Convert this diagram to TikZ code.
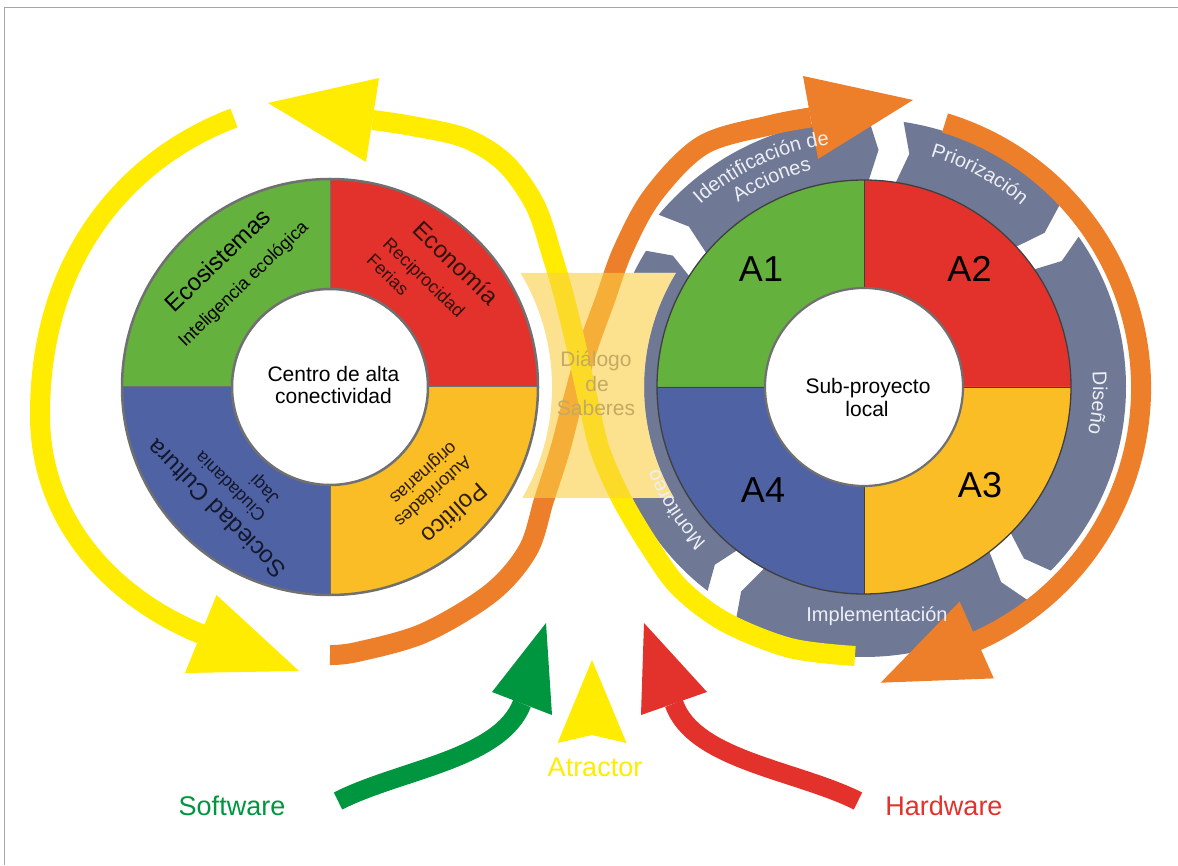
\documentclass[tikz,border=0pt]{standalone}
\usepackage{fontspec}
\setmainfont{Liberation Sans}
\usetikzlibrary{decorations.text}
\definecolor{qgreen}{RGB}{101,177,61}
\definecolor{qred}{RGB}{227,50,43}
\definecolor{qyellow}{RGB}{251,189,38}
\definecolor{qblue}{RGB}{79,98,164}
\definecolor{ringgray}{RGB}{111,120,148}
\definecolor{byellow}{RGB}{255,236,0}
\definecolor{borange}{RGB}{238,127,42}
\definecolor{swgreen}{RGB}{0,150,64}
\definecolor{hwred}{RGB}{227,49,43}
\definecolor{rectyel}{RGB}{251,208,68}
\definecolor{dialtxt}{RGB}{196,170,96}
\definecolor{ringtxt}{RGB}{236,239,246}
\definecolor{edgegray}{RGB}{112,112,112}
\definecolor{txtred}{RGB}{50,18,14}
\definecolor{txtyel}{RGB}{45,30,5}
\definecolor{txtblue}{RGB}{20,24,45}
\newcommand{\myfs}[1]{\fontsize{#1}{#1}\selectfont}
\newcommand{\ringseg}[3]{\fill[ringgray] (#1:#3) arc[start angle=#1, end angle=#2, radius=#3] -- ({#2-2.5}:{(#3+207)/2}) -- (#2:203) arc[start angle=#2, end angle=#1, radius=203] -- ({#1-2.5}:{(#3+207)/2}) -- cycle;}
\tikzset{
  band/.style={line width=20, line join=round},
  ringlbl/.style={decorate, decoration={text along path, text align=center, text={#1}}},
}
\begin{document}
\begin{tikzpicture}[x=1pt,y=1pt]
\useasboundingbox (0,0) rectangle (1178,865);
\fill[white] (0,0) rectangle (1178,865);
\draw[gray!70, line width=1] (4,0) -- (4,857) -- (1178,857);

% ---------- left disc ----------
\begin{scope}[shift={(330,478)}]
\fill[qgreen] (0,0) -- (90:208) arc[start angle=90,end angle=180,radius=208] -- cycle;
\fill[qred] (0,0) -- (0:208) arc[start angle=0,end angle=90,radius=208] -- cycle;
\fill[qyellow] (0,0) -- (270:208) arc[start angle=270,end angle=360,radius=208] -- cycle;
\fill[qblue] (0,0) -- (180:208) arc[start angle=180,end angle=270,radius=208] -- cycle;
\draw[edgegray, line width=1] (0,208) -- (0,-208) (-208,0) -- (208,0);
\draw[edgegray, line width=2.5] (0,0) circle[radius=208];
\filldraw[fill=white, draw=edgegray, line width=2.5] (0,0) circle[radius=98];
\end{scope}

% ---------- right ring segments ----------
\begin{scope}[shift={(864,478)}]
\ringseg{140}{89}{268}
\ringseg{81.5}{43}{268}
\ringseg{35}{-44.5}{262}
\ringseg{-52.4}{-118.5}{270}
\ringseg{-127.5}{-212}{257}
% disc
\fill[qgreen] (0,0) -- (90:207) arc[start angle=90,end angle=180,radius=207] -- cycle;
\fill[qred] (0,0) -- (0:207) arc[start angle=0,end angle=90,radius=207] -- cycle;
\fill[qyellow] (0,0) -- (270:207) arc[start angle=270,end angle=360,radius=207] -- cycle;
\fill[qblue] (0,0) -- (180:207) arc[start angle=180,end angle=270,radius=207] -- cycle;
\draw[black!75, line width=0.8] (0,207) -- (0,-207) (-207,0) -- (207,0);
\draw[black!75, line width=1.3] (0,0) circle[radius=207];
\filldraw[fill=white, draw=edgegray, line width=2.2] (0,0) circle[radius=99];
\end{scope}

% ---------- erase ring under dialogue zone ----------
\fill[white] (520.5,592) -- (675.8,592) arc[start angle=148.8, end angle=210.3, radius=220] -- (522.3,367) arc[start angle=-30.0, end angle=30.9, radius=222] -- cycle;

% ---------- orange bands ----------
\draw[borange, band] plot[smooth, tension=0.55] coordinates {(330,210) (357,213) (424,232) (491,272) (528,315) (544,365) (560,415) (573,465) (587,515) (605,565) (623,615) (653,670) (703,720) (771,740) (810.5,747.5)};
\fill[borange] (803,789) -- (913,765) -- (818,706) -- cycle;
\draw[borange, band] (945,742) arc[start angle=73, end angle=-66, radius=277];
\fill[borange] (993.8,186.6) -- (880.7,182.3) -- (959.6,263.4) -- cycle;

% ---------- yellow bands ----------
\draw[byellow, band] (234,747) .. controls (140,712) and (40,620) .. (40,450) .. controls (40,340) and (117.6,264.7) .. (201,231);
\fill[byellow] (216.5,270) -- (299,194) -- (185,192) -- cycle;
\draw[byellow, band] plot[smooth, tension=0.55] coordinates {(855,209) (790,217) (725,243) (680,277) (652,315) (622,365) (600,415) (588,465) (577,515) (565,565) (552,610) (535,660) (505,702) (465,727) (412,739) (372.5,745)};
\fill[byellow] (379,787) -- (268,762) -- (366,703) -- cycle;

% ---------- translucent dialogue zone ----------
\fill[rectyel, opacity=0.6] (520.5,592) -- (675.8,592) arc[start angle=148.8, end angle=210.3, radius=220] -- (522.3,367) arc[start angle=-30.0, end angle=30.9, radius=222] -- cycle;

% ---------- bottom arrows ----------
\draw[swgreen, line width=19] (338,64) .. controls (400,95.5) and (500.5,105.5) .. (522,161.5);
\fill[swgreen] (492,173) -- (546,242) -- (552,150) -- cycle;
\draw[hwred, line width=19] (858,64) .. controls (796,95) and (693.7,105) .. (674,161.5);
\fill[hwred] (641,150) -- (644,242) -- (707,173) -- cycle;
\fill[byellow] (592,205) -- (626.5,122) -- (592,130) -- (557.6,122) -- cycle;

% ---------- ring labels ----------
\begin{scope}[shift={(864,478)}]
\path[ringlbl={|\myfs{20}\color{ringtxt}|Identificación de}] (150:245) arc[start angle=150, end angle=80, radius=245];
\path[ringlbl={|\myfs{20}\color{ringtxt}|Acciones}] (150:223) arc[start angle=150, end angle=78, radius=223];
\path[ringlbl={|\myfs{20}\color{ringtxt}|Priorización}] (95:240) arc[start angle=95, end angle=28, radius=240];
\path[ringlbl={|\myfs{20}\color{ringtxt}|Diseño}] (30:229) arc[start angle=30, end angle=-38, radius=229];
\path[ringlbl={|\myfs{20}\color{ringtxt}|Monitoreo}] (-112:221) arc[start angle=-112, end angle=-182, radius=221];
\end{scope}
\node[font=\myfs{20}, text=ringtxt, anchor=base] (impl) at (877,243.3) {Implementación};

% ---------- right disc labels ----------
\node[font=\myfs{36}, anchor=base] (a1) at (761,583) {A1};
\node[font=\myfs{36}, anchor=base] (a2) at (969.5,583) {A2};
\node[font=\myfs{36}, anchor=base] (a3) at (980,367) {A3};
\node[font=\myfs{36}, anchor=base] (a4) at (763,362) {A4};
\node[font=\myfs{21}, anchor=base] (sub1) at (868,471) {Sub-proyecto};
\node[font=\myfs{21}, anchor=base] (sub2) at (867,448) {local};

% ---------- left disc labels ----------
\node[font=\myfs{21}, anchor=base] (c1) at (333.5,483.3) {Centro de alta};
\node[font=\myfs{21}, anchor=base] (c2) at (333.5,461.7) {conectividad};
\node[font=\myfs{24}, rotate=44] (eco) at (217.5,605) {Ecosistemas};
\node[font=\myfs{18}, rotate=44] (intel) at (244,580.5) {Inteligencia ecológica};
\node[font=\myfs{24}, rotate=-44, text=txtred] (econ) at (456,602) {Economía};
\node[font=\myfs{18}, rotate=-44, text=txtred] (recip) at (423,586) {Reciprocidad};
\node[font=\myfs{18}, rotate=-44, text=txtred] (ferias) at (388,590.5) {Ferias};
\node[font=\myfs{24}, rotate=222, text=txtyel] (pol) at (455,351) {Político};
\node[font=\myfs{18}, rotate=222, text=txtyel] (auto) at (433.5,372.5) {Autoridades};
\node[font=\myfs{18}, rotate=222, text=txtyel] (orig) at (423,392.5) {originarias};
\node[font=\myfs{24}, rotate=135, text=txtblue] (soc) at (216,356) {Sociedad Cultura};
\node[font=\myfs{18}, rotate=135, text=txtblue] (ciud) at (230,378) {Ciudadania};
\node[font=\myfs{18}, rotate=135, text=txtblue] (jaqi) at (265,376) {Jaqi};

% ---------- dialogue text ----------
\node[font=\myfs{21}, text=dialtxt, anchor=base] (d1) at (596,498) {Diálogo};
\node[font=\myfs{21}, text=dialtxt, anchor=base] (d2) at (597,473.3) {de};
\node[font=\myfs{21}, text=dialtxt, anchor=base] (d3) at (596,449.5) {Saberes};

% ---------- bottom labels ----------
\node[font=\myfs{27}, text=swgreen] (sw) at (232,59) {Software};
\node[font=\myfs{27}, text=byellow] (atr) at (595,98) {Atractor};
\node[font=\myfs{27}, text=hwred] (hw) at (944,59) {Hardware};
\end{tikzpicture}
\end{document}
